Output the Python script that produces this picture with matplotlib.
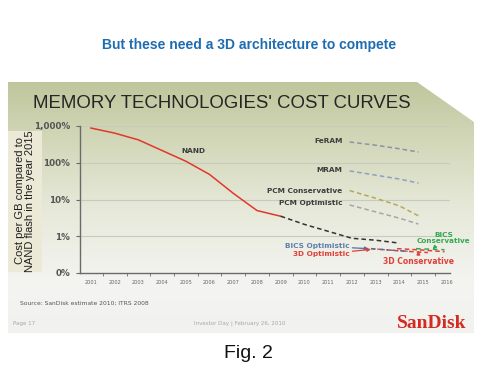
import numpy as np
import matplotlib.pyplot as plt
from matplotlib.colors import LinearSegmentedColormap
from matplotlib.patches import Polygon, Rectangle

# ---- data ----
nand_years = [2001, 2002, 2003, 2004, 2005, 2006, 2007, 2008, 2009]
nand_vals = [880, 640, 420, 215, 110, 48, 14.7, 5.0, 3.5]
proj_years = [2009, 2010, 2011, 2012, 2013, 2014]
proj_vals = [3.5, 2.1, 1.36, 0.88, 0.78, 0.65]

emerg_years = [2011.9, 2013, 2014, 2014.8]
feram_vals = [367, 300, 240, 196]
mram_vals = [60, 46, 36, 28]
pcm_cons_vals = [17.5, 10.8, 6.7, 3.6]
pcm_opt_vals = [7.1, 4.6, 3.1, 2.15]

bics_opt_years = [2012.8, 2013.6, 2014.4]
bics_opt_vals = [0.46, 0.42, 0.39]
opt3d_years = [2012.8, 2014, 2015.2]
opt3d_vals = [0.46, 0.40, 0.36]
cons3d_years = [2013.9, 2015, 2015.9]
cons3d_vals = [0.46, 0.42, 0.38]
bics_cons_years = [2014.7, 2015.9]
bics_cons_vals = [0.46, 0.43]

year_ticks = list(range(2001, 2017))
y_ticks = [1000, 100, 10, 1, 0.1]
y_labels = ['1,000%', '100%', '10%', '1%', '0%']

W, H = 498, 374
fig = plt.figure(figsize=(W / 100, H / 100), dpi=100)
fig.patch.set_facecolor('white')


def fp(x, y):
    return x / W, 1 - y / H


# ---- slide background ----
bg = fig.add_axes([0, 0, 1, 1])
bg.set_xlim(0, W)
bg.set_ylim(H, 0)
bg.axis('off')
cmap = LinearSegmentedColormap.from_list(
    'slide', [(0, '#bfc69c'), (0.2, '#d0d5b5'), (0.5, '#e6e9d9'),
              (0.8, '#f4f4f1'), (1, '#f1f1ef')])
grad = np.linspace(0, 1, 256).reshape(-1, 1)
im = bg.imshow(grad, extent=(8, 474, 333, 82), aspect='auto', cmap=cmap,
               origin='upper', zorder=0)
poly = Polygon([(8, 82), (417, 82), (474, 122), (474, 333), (8, 333)],
               closed=True, facecolor='none', edgecolor='none',
               transform=bg.transData)
bg.add_patch(poly)
im.set_clip_path(poly)
bg.add_patch(Rectangle((8, 131), 34, 141, facecolor='#ede9d7',
                       edgecolor='none', zorder=1))

# ---- chart ----
ax = fig.add_axes([80 / W, 1 - 273 / H, 370 / W, 147 / H])
ax.patch.set_alpha(0)
ax.set_yscale('log')
ax.set_ylim(0.1, 1000)
ax.set_xlim(2000.54, 2016.13)
for s in ['top', 'right']:
    ax.spines[s].set_visible(False)
ax.spines['left'].set_color('#6a6a6a')
ax.spines['bottom'].set_color('#6a6a6a')
ax.spines['left'].set_linewidth(1.0)
ax.spines['bottom'].set_linewidth(1.0)
for v in y_ticks[:-1]:
    ax.axhline(v, color='#c9cabf', lw=0.8, zorder=0)

ax.set_yticks(y_ticks)
ax.set_yticklabels(y_labels, fontsize=6.3, fontweight='bold', color='#555555')
ax.yaxis.set_minor_locator(plt.NullLocator())
ax.tick_params(axis='y', length=3, width=0.8, color='#6a6a6a', pad=4)
ax.set_xticks(year_ticks)
ax.set_xticklabels([str(y) for y in year_ticks], fontsize=3.6,
                   color='#666666')
ax.set_xticks([y + 0.5 for y in year_ticks[:-1]], minor=True)
ax.tick_params(axis='x', which='major', length=0, pad=5)
ax.tick_params(axis='x', which='minor', length=2, width=0.6, color='#6a6a6a')

ax.plot(nand_years, nand_vals, color='#e2372a', lw=1.1)
ax.plot(proj_years, proj_vals, color='#333333', lw=1.1, dashes=(3, 2))
ax.plot(emerg_years, feram_vals, color='#8b93a6', lw=1.1, dashes=(3, 2))
ax.plot(emerg_years, mram_vals, color='#86a3c6', lw=1.1, dashes=(3, 2))
ax.plot(emerg_years, pcm_cons_vals, color='#b8a75a', lw=1.1, dashes=(3, 2))
ax.plot(emerg_years, pcm_opt_vals, color='#a4a6a8', lw=1.1, dashes=(3, 2))
ax.plot(opt3d_years, opt3d_vals, color='#e0403a', lw=1.1, dashes=(3, 2))
ax.plot(bics_opt_years, bics_opt_vals, color='#4e72a3', lw=1.0,
        dashes=(3, 1.5, 1, 1.5))
ax.plot(cons3d_years, cons3d_vals, color='#e0403a', lw=1.1, dashes=(3, 2))
ax.plot(bics_cons_years, bics_cons_vals, color='#35a853', lw=1.1,
        dashes=(3, 2.5))

lab = dict(fontsize=5.3, fontweight='bold', color='#3c3c3c', va='center',
           ha='right')
ax.text(2005.3, 210, 'NAND', fontsize=5.3, fontweight='bold',
        color='#3c3c3c', ha='center', va='center')
ax.text(emerg_years[0] - 0.3, feram_vals[0] * 1.05, 'FeRAM', **lab)
ax.text(emerg_years[0] - 0.3, mram_vals[0] * 1.05, 'MRAM', **lab)
ax.text(emerg_years[0] - 0.3, pcm_cons_vals[0] * 0.95, 'PCM Conservative', **lab)
ax.text(emerg_years[0] - 0.3, pcm_opt_vals[0] * 1.1, 'PCM Optimistic', **lab)

ax.annotate('BICS Optimistic', xy=(2012.7, 0.46), xytext=(2011.9, 0.54),
            fontsize=5.3, fontweight='bold', color='#5f7fae', ha='right',
            va='center',
            arrowprops=dict(arrowstyle='-|>', color='#4e72a3', lw=0.9,
                            mutation_scale=5, shrinkA=0, shrinkB=0))
ax.annotate('3D Optimistic', xy=(2012.8, 0.44), xytext=(2011.9, 0.32),
            fontsize=5.3, fontweight='bold', color='#e0403a', ha='right',
            va='center',
            arrowprops=dict(arrowstyle='-|>', color='#e0403a', lw=0.9,
                            mutation_scale=5, shrinkA=0, shrinkB=0))
ax.annotate('3D Conservative', xy=(2014.8, 0.40), xytext=(2014.8, 0.20),
            fontsize=5.5, fontweight='bold', color='#e0403a', ha='center',
            va='center',
            arrowprops=dict(arrowstyle='-|>', color='#e0403a', lw=0.9,
                            mutation_scale=5, shrinkA=3, shrinkB=0))
ax.annotate('BICS\nConservative', xy=(2015.4, 0.44), xytext=(2015.85, 0.9),
            fontsize=5.2, fontweight='bold', color='#35a853', ha='center',
            va='center', linespacing=0.95,
            arrowprops=dict(arrowstyle='-|>', color='#35a853', lw=0.9,
                            mutation_scale=5, shrinkA=5, shrinkB=0))

# ---- slide texts ----
fig.text(*fp(249, 45), 'But these need a 3D architecture to compete',
         ha='center', va='center', fontsize=10, fontweight='bold',
         color='#1f6cb0', family=['Liberation Sans', 'DejaVu Sans'])
fig.text(*fp(33, 104), "MEMORY TECHNOLOGIES' COST CURVES", ha='left',
         va='center', fontsize=13.4, color='#262626',
         family=['Liberation Sans', 'DejaVu Sans'])
fig.text(*fp(25, 201), 'Cost per GB compared to\nNAND flash in the year 2015',
         ha='center', va='center', rotation=90, fontsize=8,
         color='#1e1e1e', linespacing=1.05,
         family=['Liberation Sans', 'DejaVu Sans'])
fig.text(*fp(20, 303), 'Source: SanDisk estimate 2010; ITRS 2008', ha='left',
         va='center', fontsize=4.3, color='#555555')
fig.text(*fp(13, 323), 'Page 17', ha='left', va='center', fontsize=4,
         color='#a8a8a8')
fig.text(*fp(240, 323), 'Investor Day | February 26, 2010', ha='center',
         va='center', fontsize=4, color='#a8a8a8')
fig.text(*fp(432, 323), 'SanDisk', ha='center', va='center', fontsize=14,
         fontweight='bold', color='#d42a20',
         family=['Liberation Serif', 'DejaVu Serif'])
fig.text(*fp(248, 353), 'Fig. 2', ha='center', va='center', fontsize=14,
         color='#111111', family=['Liberation Sans', 'DejaVu Sans'])

fig.savefig('out.png', dpi=100)
